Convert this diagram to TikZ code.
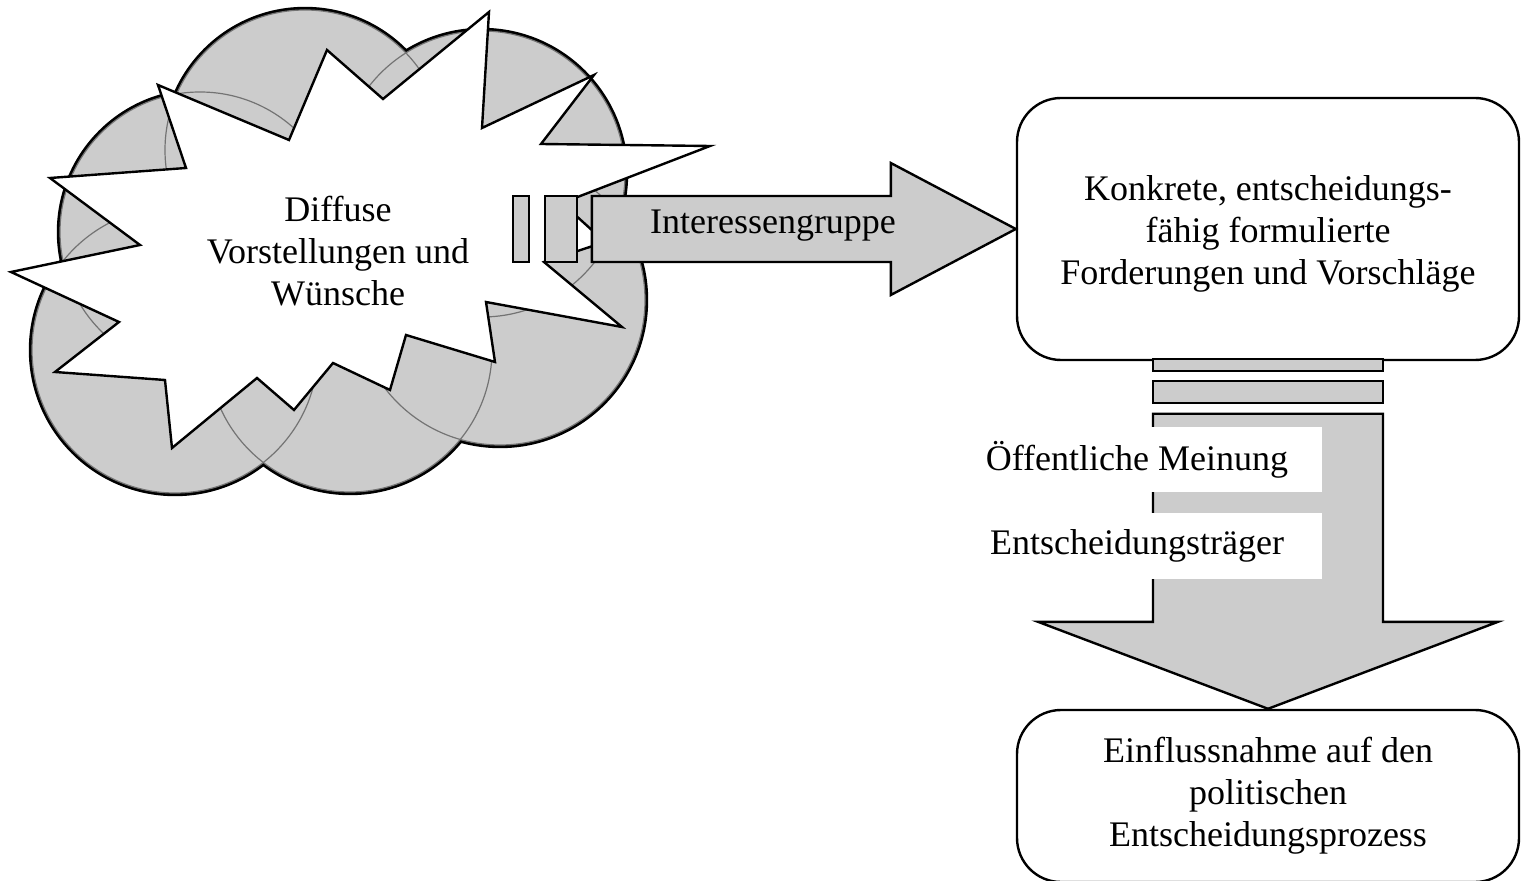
\documentclass[tikz,border=0pt]{standalone}
\usepackage{fontspec}
\setmainfont{Liberation Serif}
\usetikzlibrary{calc}
\definecolor{cloudgray}{RGB}{204,204,204}
\tikzset{>=latex}
\tikzset{
    box/.style = {draw, fill = white, rounded corners = 22pt, minimum width = 251pt},
    blockarrow/.style = {draw, fill = cloudgray},
    tag/.style = {fill = white, minimum width = 185pt, minimum height = 32.5pt, inner sep = 0pt}
}

\begin{document}
\begin{tikzpicture}[x = 0.5pt, y = -0.5pt, line join = miter, line width = 1.2pt,
    every node/.style = {font = \fontsize{18}{21}\selectfont, align = center}]
    \useasboundingbox (0,0) rectangle (1525,881);

    % cloud of circles
    \foreach \cx/\cy/\r in {175/350/143, 350/350/142, 500/300/145, 482/174/143, 305/150/140, 200/232/140}
        \draw[line width = 3.2pt] (\cx,\cy) circle[radius = \r];
    \foreach \cx/\cy/\r in {175/350/143, 350/350/142, 500/300/145, 482/174/143, 305/150/140, 200/232/140}
        \fill[cloudgray] (\cx,\cy) circle[radius = \r];
    \foreach \cx/\cy/\r in {175/350/143, 350/350/142, 500/300/145, 482/174/143, 305/150/140, 200/232/140}
        \draw[black!55, line width = 0.6pt] (\cx,\cy) circle[radius = \r];

    % explosion
    \draw[fill = white] (158,85) -- (289,140) -- (327,50) -- (383,99) -- (489,12) -- (482,128)
        -- (594,75) -- (541,144) -- (710,146) -- (562,203) -- (605,242) -- (544,262)
        -- (622,327) -- (486,302) -- (495,362) -- (406,335) -- (390,390) -- (333,363)
        -- (294,410) -- (257,378) -- (172,448) -- (165,380) -- (55,372) -- (119,322)
        -- (11,272) -- (140,245) -- (50,178) -- (186,168) -- cycle;
    \node (wish) at (338,251) {Diffuse\\Vorstellungen und\\Wünsche};

    \node (demand) [box, minimum height = 131pt] at (1268,229)
        {\rule{0pt}{17pt}Konkrete, entscheidungs-\\fähig formulierte\\Forderungen und Vorschläge};
    \node (influence) [box, minimum height = 86pt] at (1268,796)
        {Einflussnahme auf den\\politischen\\Entscheidungsprozess};

    % arrow into the demands
    \begin{scope}[shift = {(demand.west)}]
        \draw[blockarrow] (-503,-33) rectangle (-487,33);
        \draw[blockarrow] (-471,-33) rectangle (-439,33);
        \draw[blockarrow] (-424,-33) -- (-125,-33) -- (-125,-66) -- (0,0)
            -- (-125,66) -- (-125,33) -- (-424,33) -- cycle;
    \end{scope}
    \node (group) at (773,226) {Interessengruppe};

    % arrow down to the influence
    \begin{scope}[shift = {(influence.north)}]
        \draw[blockarrow] (-115,-350) rectangle (115,-338);
        \draw[blockarrow] (-115,-328) rectangle (115,-306);
        \draw[blockarrow] (-115,-295) -- (115,-295) -- (115,-87) -- (230,-87) -- (0,0)
            -- (-230,-87) -- (-115,-87) -- cycle;
    \end{scope}
    \node (opinion) [tag] at (1137,460) {Öffentliche Meinung};
    \node (decider) [tag] at (1137,546) {Entscheidungsträger};

\end{tikzpicture}
\end{document}
